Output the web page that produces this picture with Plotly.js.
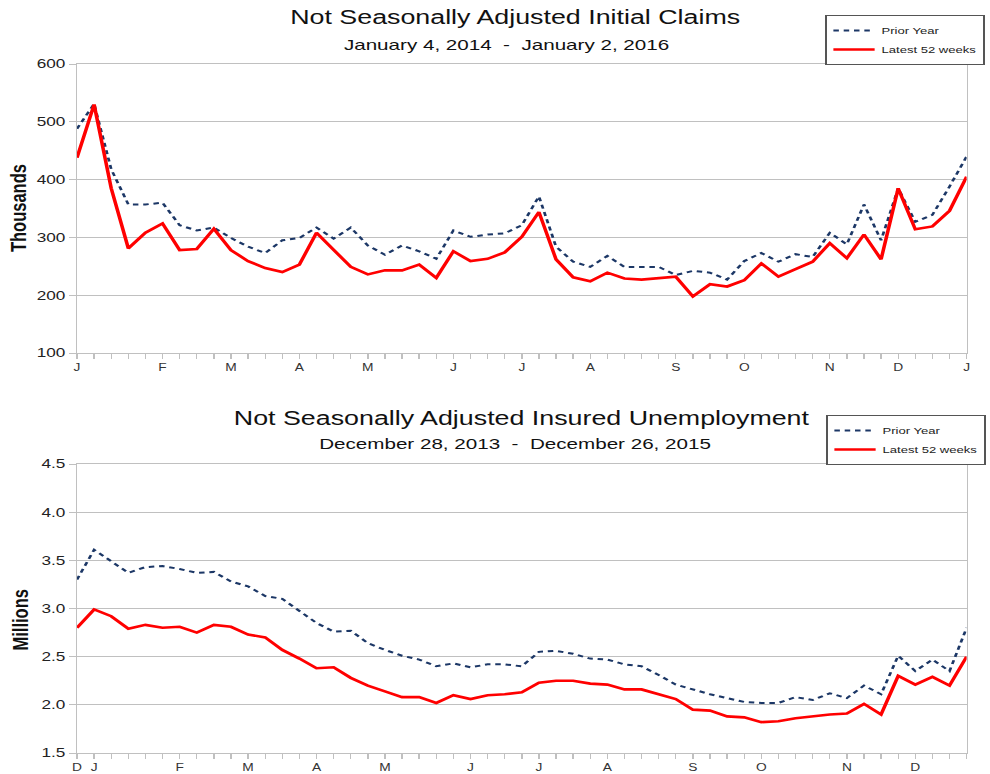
<!DOCTYPE html>
<html>
<head>
<meta charset="utf-8">
<script src="https://cdn.plot.ly/plotly-3.0.1.min.js"></script>
<style>
html,body{margin:0;padding:0;background:#fff;overflow:hidden;}
/* the reference image is horizontally stretched: draw at 720px wide and stretch to 990px */
#chart{width:720px;height:774px;transform:scaleX(1.375);transform-origin:0 0;}
</style>
</head>
<body>
<div id="chart"></div>
<script>
// ---- Data ----
const weeks = Array.from({length: 53}, (_, i) => i);

const claimsLatest = [438,530,385,281,308,324,278,280,315,278,259,247,240,253,308,279,249,236,243,243,253,230,276,259,263,274,301,344,262,231,224,239,229,227,229,232,198,219,215,226,255,232,245,258,290,264,305,262,385,314,319,346,405];
const claimsPrior = [488,531,418,357,357,360,321,312,317,299,284,273,295,299,317,298,317,286,270,286,276,263,312,301,305,307,321,371,284,258,249,268,249,249,249,235,242,239,227,259,273,258,271,266,308,288,357,295,385,327,339,388,440];

const unempLatest = [2.80,2.99,2.92,2.79,2.83,2.80,2.81,2.75,2.83,2.81,2.73,2.70,2.57,2.48,2.38,2.39,2.28,2.20,2.14,2.08,2.08,2.02,2.10,2.06,2.10,2.11,2.13,2.23,2.25,2.25,2.22,2.21,2.16,2.16,2.11,2.06,1.95,1.94,1.88,1.87,1.82,1.83,1.86,1.88,1.90,1.91,2.01,1.90,2.30,2.21,2.29,2.20,2.50];
const unempPrior = [3.30,3.61,3.49,3.37,3.43,3.44,3.41,3.37,3.38,3.28,3.23,3.13,3.10,2.97,2.85,2.76,2.77,2.64,2.57,2.51,2.47,2.40,2.43,2.39,2.42,2.42,2.40,2.55,2.56,2.53,2.48,2.47,2.42,2.40,2.31,2.21,2.16,2.11,2.07,2.03,2.02,2.02,2.08,2.05,2.12,2.07,2.20,2.11,2.51,2.35,2.47,2.35,2.80];

const claimsMonthPos = [0,5,9,13,17,22,26,30,35,39,44,48,52];
const claimsMonthText = ['J','F','M','A','M','J','J','A','S','O','N','D','J'];
const unempMonthPos = [0,1,6,10,14,18,23,27,31,36,40,45,49];
const unempMonthText = ['D','J','F','M','A','M','J','J','A','S','O','N','D'];

const claimsYTicks = [100,200,300,400,500,600];
const unempYTicks = [1.5,2.0,2.5,3.0,3.5,4.0,4.5];
const unempYTickText = ['1.5','2.0','2.5','3.0','3.5','4.0','4.5'];

// ---- Helpers ----
function tickTextFor(pos, text) {
  return weeks.map(w => { const k = pos.indexOf(w); return k >= 0 ? text[k] : ''; });
}

const S = 1.375;           // horizontal stretch
const W = 720, H = 774;
const FONT = 'Liberation Sans, Arial, Helvetica, sans-serif';
const NAVY = '#1c3766';
const RED = '#ff0000';
const GRID = '#c0c0c0';

const traces = [
  {x: weeks, y: claimsPrior, name: 'Prior Year', type: 'scatter', mode: 'lines',
   line: {color: NAVY, width: 2, dash: '4px,3.5px'}, xaxis: 'x', yaxis: 'y', legend: 'legend'},
  {x: weeks, y: claimsLatest, name: 'Latest 52 weeks', type: 'scatter', mode: 'lines',
   line: {color: RED, width: 2.6}, xaxis: 'x', yaxis: 'y', legend: 'legend'},
  {x: weeks, y: unempPrior, name: 'Prior Year', type: 'scatter', mode: 'lines',
   line: {color: NAVY, width: 2, dash: '4px,3.5px'}, xaxis: 'x2', yaxis: 'y2', legend: 'legend2'},
  {x: weeks, y: unempLatest, name: 'Latest 52 weeks', type: 'scatter', mode: 'lines',
   line: {color: RED, width: 2.6}, xaxis: 'x2', yaxis: 'y2', legend: 'legend2'}
];

const xBase = {
  range: [0, 52], tickmode: 'array', tickvals: weeks,
  ticks: 'outside', ticklen: 5, tickcolor: GRID, tickwidth: 1,
  showline: true, linecolor: GRID, linewidth: 1, mirror: true,
  showgrid: false, zeroline: false,
  tickfont: {family: FONT, size: 10, color: '#333'}
};
const yBase = {
  ticks: 'outside', ticklen: 5, tickcolor: GRID, tickwidth: 1,
  showline: true, linecolor: GRID, linewidth: 1, mirror: true,
  showgrid: true, gridcolor: GRID, gridwidth: 1, zeroline: false,
  tickfont: {family: FONT, size: 12.5, color: '#222'}
};

const T = 64, B = 21, PH = H - T - B;
const L = 77 / S, R = W - 966 / S;
function py(pix) { return (H - B - pix) / PH; }
function px(pix) { return (pix - 77) / (966 - 77); }

const legendBase = {xanchor: 'right', yanchor: 'top', bordercolor: '#555', borderwidth: 1, bgcolor: '#fff',
  font: {family: FONT, size: 9.5, color: '#222'}, itemwidth: 30, tracegroupgap: 0};

const layout = {
  width: W, height: H,
  margin: {l: L, r: R, t: T, b: B, autoexpand: false},
  paper_bgcolor: '#fff', plot_bgcolor: '#fff',
  font: {family: FONT, color: '#222'},
  showlegend: true,
  xaxis: Object.assign({}, xBase, {domain: [0, 1], anchor: 'y', ticktext: tickTextFor(claimsMonthPos, claimsMonthText)}),
  yaxis: Object.assign({}, yBase, {domain: [py(353), 1], anchor: 'x', range: [100, 600], tickvals: claimsYTicks}),
  xaxis2: Object.assign({}, xBase, {domain: [0, 1], anchor: 'y2', ticktext: tickTextFor(unempMonthPos, unempMonthText)}),
  yaxis2: Object.assign({}, yBase, {domain: [0, py(464)], anchor: 'x2', range: [1.5, 4.5], tickvals: unempYTicks, ticktext: unempYTickText}),
  legend: Object.assign({}, legendBase, {x: px(984), y: py(15)}),
  legend2: Object.assign({}, legendBase, {x: px(985), y: py(415)}),
  annotations: [
    {text: 'Not Seasonally Adjusted Initial Claims', xref: 'paper', yref: 'paper',
     x: px(516), y: py(17), xanchor: 'center', yanchor: 'middle', showarrow: false,
     font: {family: FONT, size: 19.5, color: '#111'}},
    {text: 'January 4, 2014  -  January 2, 2016', xref: 'paper', yref: 'paper',
     x: px(506), y: py(44), xanchor: 'center', yanchor: 'middle', showarrow: false,
     font: {family: FONT, size: 15, color: '#111'}},
    {text: 'Not Seasonally Adjusted Insured Unemployment', xref: 'paper', yref: 'paper',
     x: px(521), y: py(418), xanchor: 'center', yanchor: 'middle', showarrow: false,
     font: {family: FONT, size: 19.5, color: '#111'}},
    {text: 'December 28, 2013  -  December 26, 2015', xref: 'paper', yref: 'paper',
     x: px(514), y: py(443), xanchor: 'center', yanchor: 'middle', showarrow: false,
     font: {family: FONT, size: 15, color: '#111'}},
    {text: '<b>Thousands</b>', xref: 'paper', yref: 'paper', textangle: -90,
     x: px(18), y: py(208), xanchor: 'center', yanchor: 'middle', showarrow: false,
     font: {family: FONT, size: 16.5, color: '#111'}},
    {text: '<b>Millions</b>', xref: 'paper', yref: 'paper', textangle: -90,
     x: px(20), y: py(620), xanchor: 'center', yanchor: 'middle', showarrow: false,
     font: {family: FONT, size: 16.5, color: '#111'}}
  ]
};

Plotly.newPlot('chart', traces, layout, {displayModeBar: false, staticPlot: true});
</script>
</body>
</html>
